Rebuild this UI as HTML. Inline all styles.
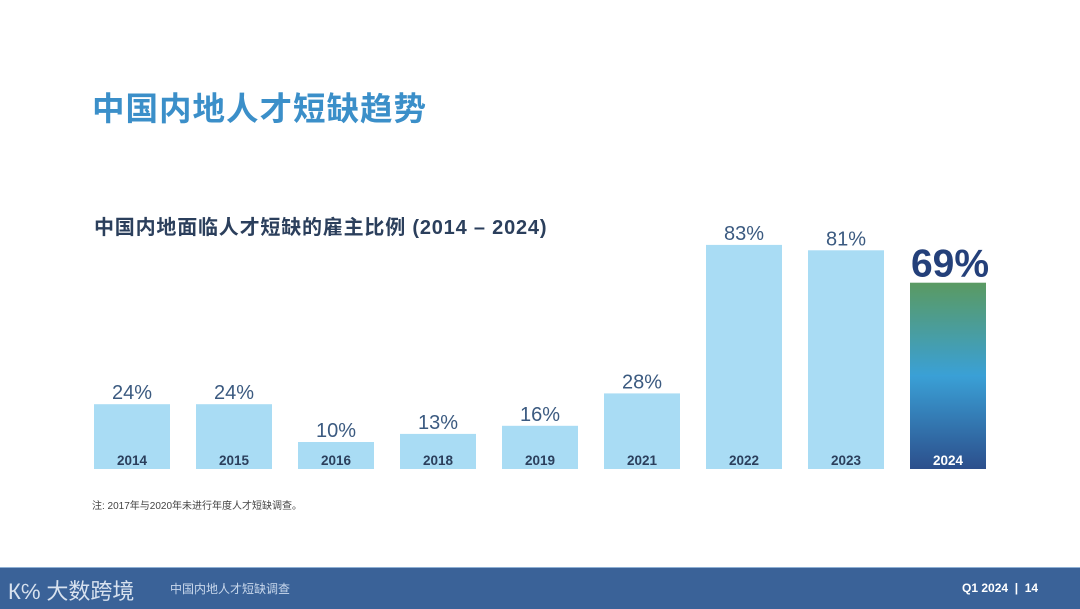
<!DOCTYPE html>
<html><head><meta charset="utf-8"><style>
body{margin:0;width:1080px;height:608px;background:#fff;position:relative;overflow:hidden;font-family:"Liberation Sans","Noto Sans CJK SC",sans-serif;}
.abs{position:absolute;}
</style></head><body>
<div class="abs" style="left:92px;top:83px;font-size:32.5px;font-weight:bold;color:#3b8fc9;letter-spacing:1px;">中国内地人才短缺趋势</div>
<div class="abs" style="left:94px;top:211px;font-size:20px;font-weight:bold;color:#2b3f5c;letter-spacing:0.8px;">中国内地面临人才短缺的雇主比例 (2014 – 2024)</div>
<svg class="abs" style="left:0;top:0" width="1080" height="560">
<defs><linearGradient id="g" x1="0" y1="0" x2="0" y2="1">
<stop offset="0" stop-color="#5a9a62"/><stop offset="0.5" stop-color="#3aa0d6"/><stop offset="1" stop-color="#2c4f8c"/></linearGradient></defs>
<g id="bars"></g></svg>
<div class="abs" style="left:92px;top:497px;font-size:10px;color:#444;">注: 2017年与2020年未进行年度人才短缺调查。</div>
<div class="abs" style="left:0;top:567px;width:1080px;height:41px;background:#3a6298;border-top:1px solid #8fb0d4;">
<div class="abs" style="left:8px;top:6px;font-size:22px;color:#d8e2ef;">К℅ 大数跨境</div>
<div class="abs" style="left:170px;top:12px;font-size:12px;color:#c9d8ec;">中国内地人才短缺调查</div>
<div class="abs" style="left:962px;top:13px;font-size:12px;font-weight:bold;color:#fff;">Q1 2024 &nbsp;| &nbsp;14</div>
</div>
<script>
const categories=["2014","2015","2016","2018","2019","2021","2022","2023","2024"];
const values=[24,24,10,13,16,28,83,81,69];
const labels=["24%","24%","10%","13%","16%","28%","83%","81%","69%"];
const base=469,scale=2.7,x0=94,step=102,bw=76;
const y=v=>base-v*scale, x=i=>x0+i*step;
const g=document.getElementById('bars'),ns="http://www.w3.org/2000/svg";
categories.forEach((c,i)=>{
 const last=i===categories.length-1;
 const r=document.createElementNS(ns,'rect');
 
 
 r.setAttribute('x',x(i));r.setAttribute('y',y(values[i]));r.setAttribute('width',bw);r.setAttribute('height',values[i]*scale);
 r.setAttribute('fill',last?'url(#g)':'#a9dcf4');g.appendChild(r);
 const t=document.createElementNS(ns,'text');
 
 
 t.setAttribute('x',x(i)+bw/2);t.setAttribute('y',base-4);t.setAttribute('text-anchor','middle');
 t.setAttribute('font-size','13.5');t.setAttribute('font-weight','bold');t.setAttribute('fill',last?'#fff':'#2b3f5c');
 t.textContent=c;g.appendChild(t);
 const v=document.createElementNS(ns,'text');
 
 
 v.setAttribute('x',x(i)+bw/2+(last?2:0));v.setAttribute('y',y(values[i])-(last?6:5));v.setAttribute('text-anchor','middle');
 v.setAttribute('font-size',last?'39':'20');if(last)v.setAttribute('font-weight','bold');
 v.setAttribute('fill',last?'#24407a':'#3b5a80');
 v.textContent=labels[i];g.appendChild(v);
});
</script>
</body></html>
